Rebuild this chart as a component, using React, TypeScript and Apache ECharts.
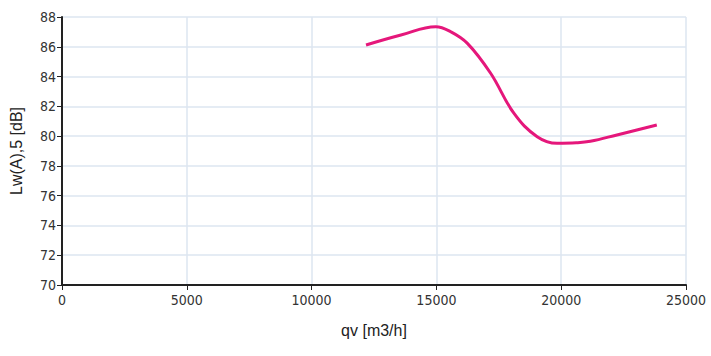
import React, { useEffect, useRef } from "react";
import * as echarts from "echarts";

const flowValues = [12180, 13580, 14976, 15575, 16242, 17173, 18103, 19038, 19836, 20600, 21166, 22233, 23830];
const soundValues = [86.12, 86.79, 87.35, 87.01, 86.23, 84.22, 81.54, 79.96, 79.52, 79.55, 79.65, 80.08, 80.75];
const xTicks = [0, 5000, 10000, 15000, 20000, 25000];
const yTicks = [70, 72, 74, 76, 78, 80, 82, 84, 86, 88];

const narrow = "'Liberation Sans Narrow', 'Arial Narrow', 'DejaVu Sans Condensed', sans-serif";

export default function App() {
  const ref = useRef<HTMLDivElement>(null);
  useEffect(() => {
    if (!ref.current) return;
    const chart = echarts.init(ref.current, undefined, { renderer: "svg" });
    chart.setOption({
      animation: false,
      backgroundColor: "#ffffff",
      grid: { left: 60, right: 25, top: 17, bottom: 71, show: false },
      xAxis: {
        type: "value",
        min: xTicks[0],
        max: xTicks[xTicks.length - 1],
        interval: 5000,
        name: "qv [m3/h]",
        nameLocation: "middle",
        nameGap: 37,
        nameTextStyle: { fontFamily: "'Liberation Sans', Arial, sans-serif", fontSize: 16, color: "#222" },
        axisLine: { show: true, lineStyle: { color: "#222", width: 2 } },
        axisTick: { show: true, length: 5, lineStyle: { color: "#222" } },
        axisLabel: { fontFamily: narrow, fontSize: 14, color: "#333", margin: 8, formatter: (v: number) => String(v) },
        splitLine: { show: true, lineStyle: { color: "#dde6f0", width: 1.5 } },
      },
      yAxis: {
        type: "value",
        min: yTicks[0],
        max: yTicks[yTicks.length - 1],
        interval: 2,
        name: "Lw(A),5 [dB]",
        nameLocation: "middle",
        nameGap: 38,
        nameRotate: 90,
        nameTextStyle: { fontFamily: "'Liberation Sans', Arial, sans-serif", fontSize: 16, color: "#222" },
        axisLine: { show: true, lineStyle: { color: "#222", width: 2 } },
        axisTick: { show: true, length: 5, lineStyle: { color: "#222" } },
        axisLabel: { fontFamily: narrow, fontSize: 14, color: "#333", margin: 6 },
        splitLine: { show: true, lineStyle: { color: "#dde6f0", width: 1.5 } },
      },
      series: [
        {
          type: "line",
          data: flowValues.map((x, i) => [x, soundValues[i]]),
          smooth: 0.4,
          showSymbol: false,
          lineStyle: { color: "#e5177b", width: 3 },
        },
      ],
    });
    return () => chart.dispose();
  }, []);
  return <div ref={ref} style={{ position: "absolute", left: 0, top: 0, width: 711, height: 356 }} />;
}
